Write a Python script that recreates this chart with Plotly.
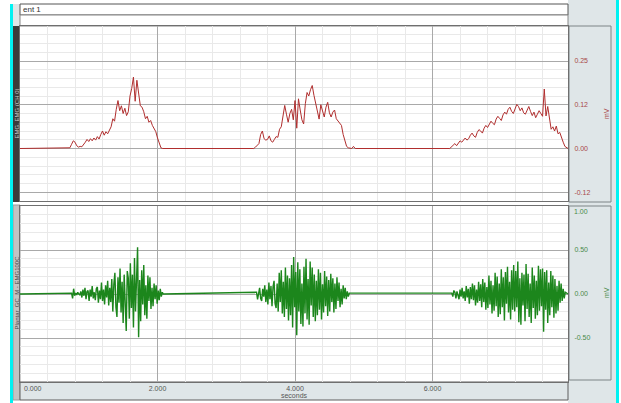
import plotly.graph_objects as go

# ---------------------------------------------------------------- data
T_END = 7.97  # seconds shown

# Channel 0: RMS envelope (mV), one value every 25 ms from each burst onset
RMS_STEP = 0.025
RMS_ONSETS = [0.70, 3.40, 6.25]
RMS_BURST_1 = [
    0.000, 0.002, 0.012, 0.022, 0.018, 0.008, 0.004, 0.006, 0.005, 0.010,
    0.018, 0.026, 0.020, 0.028, 0.022, 0.030, 0.024, 0.034, 0.027, 0.040,
    0.050, 0.038, 0.048, 0.042, 0.055, 0.062, 0.085, 0.078, 0.112, 0.137,
    0.108, 0.122, 0.100, 0.115, 0.094, 0.105, 0.150, 0.172, 0.204, 0.135,
    0.195, 0.160, 0.122, 0.118, 0.105, 0.085, 0.092, 0.075, 0.080, 0.066,
    0.058, 0.048, 0.030, 0.012, 0.002, 0.000,
]
RMS_BURST_2 = [
    0.000, 0.004, 0.010, 0.014, 0.040, 0.050, 0.028, 0.024, 0.026, 0.036,
    0.022, 0.018, 0.026, 0.034, 0.032, 0.055, 0.062, 0.090, 0.123, 0.098,
    0.075, 0.100, 0.112, 0.082, 0.137, 0.058, 0.142, 0.110, 0.082, 0.070,
    0.128, 0.160, 0.150, 0.168, 0.180, 0.152, 0.128, 0.108, 0.084, 0.125,
    0.110, 0.090, 0.118, 0.132, 0.102, 0.090, 0.104, 0.110, 0.085, 0.078,
    0.072, 0.066, 0.040, 0.020, 0.006, 0.002, 0.000, 0.000, 0.006, 0.000,
]
RMS_BURST_3 = [
    0.000, 0.004, 0.010, 0.014, 0.008, 0.016, 0.022, 0.018, 0.026, 0.030,
    0.024, 0.028, 0.038, 0.044, 0.036, 0.032, 0.046, 0.054, 0.050, 0.044,
    0.058, 0.066, 0.060, 0.070, 0.078, 0.072, 0.068, 0.084, 0.092, 0.086,
    0.080, 0.096, 0.104, 0.098, 0.112, 0.118, 0.106, 0.100, 0.114, 0.126,
    0.120, 0.108, 0.116, 0.102, 0.098, 0.112, 0.120, 0.106, 0.094, 0.104,
    0.088, 0.098, 0.108, 0.100, 0.092, 0.170, 0.093, 0.120, 0.080, 0.055,
    0.062, 0.050, 0.064, 0.042, 0.046, 0.030, 0.018, 0.006, 0.002,
]

# Channel 1: raw EMG (mV), one value every 15 ms from each burst onset
RAW_STEP = 0.015
RAW_ONSETS = [0.75, 3.44, 6.28]
RAW_BURST_1 = [
    0.01, -0.05, 0.06, -0.02, 0.01, -0.01, 0.02, 0.00, -0.01, 0.03,
    -0.04, 0.05, -0.02, 0.07, -0.06, 0.03, 0.04, -0.08, 0.05, -0.03,
    0.09, -0.05, 0.02, -0.07, 0.06, 0.08, -0.10, 0.04, -0.06, 0.13,
    -0.08, 0.05, -0.12, 0.10, -0.04, 0.15, -0.13, 0.07, -0.09, 0.17,
    -0.20, 0.11, 0.24, -0.15, -0.26, 0.19, -0.10, 0.29, -0.21, 0.14,
    -0.33, 0.22, -0.12, -0.42, 0.26, 0.18, -0.28, 0.35, -0.16, 0.22,
    -0.38, 0.41, -0.20, 0.30, 0.53, -0.49, 0.16, -0.31, 0.27, -0.12,
    0.33, -0.24, 0.10, -0.28, 0.21, -0.08, 0.19, -0.17, 0.07, -0.14,
    0.12, -0.06, 0.10, -0.11, 0.04, -0.07, 0.06, -0.03, 0.02, 0.00,
]
RAW_BURST_2 = [
    0.02, -0.06, 0.04, 0.07, -0.05, -0.08, 0.06, -0.03, 0.10, -0.09,
    0.05, -0.12, 0.13, -0.06, 0.09, -0.14, 0.08, 0.15, -0.11, -0.16,
    0.12, -0.20, 0.24, -0.09, 0.27, -0.22, 0.14, -0.26, 0.30, -0.17,
    0.21, -0.30, 0.18, -0.24, 0.33, -0.38, 0.42, -0.15, 0.25, -0.47,
    0.36, -0.20, 0.28, -0.34, 0.12, -0.37, 0.31, -0.22, 0.40, -0.29,
    0.17, -0.35, 0.37, -0.13, 0.30, -0.26, 0.22, -0.31, 0.15, -0.24,
    0.28, -0.18, 0.24, -0.29, 0.11, -0.21, 0.26, -0.14, 0.20, -0.25,
    0.16, -0.20, 0.23, -0.09, 0.18, -0.21, 0.12, -0.17, 0.19, -0.08,
    0.13, -0.15, 0.06, -0.12, 0.10, -0.05, 0.07, -0.06, 0.03, -0.03,
    0.01,
]
RAW_BURST_3 = [
    0.01, -0.03, 0.04, 0.02, -0.05, 0.03, -0.02, -0.06, 0.05, -0.03,
    0.07, -0.05, 0.03, -0.08, 0.09, -0.04, 0.06, -0.11, 0.08, -0.06,
    0.12, -0.07, 0.10, -0.13, 0.05, -0.10, 0.14, -0.08, 0.11, -0.15,
    0.17, -0.09, 0.13, -0.18, 0.08, -0.16, 0.21, -0.12, 0.15, -0.22,
    0.10, -0.19, 0.24, -0.14, 0.20, -0.26, 0.12, -0.23, 0.28, -0.15,
    0.19, -0.30, 0.25, -0.11, 0.31, -0.21, 0.14, -0.29, 0.27, -0.18,
    0.33, -0.20, 0.26, -0.15, 0.37, -0.32, 0.18, -0.35, 0.24, -0.13,
    0.22, -0.31, 0.34, -0.17, 0.23, -0.26, 0.12, -0.33, 0.30, -0.16,
    0.21, -0.28, 0.15, -0.24, 0.32, -0.19, 0.28, -0.14, 0.29, -0.43,
    0.25, -0.18, 0.27, -0.33, 0.13, -0.24, 0.26, -0.15, 0.21, -0.27,
    0.17, -0.22, 0.09, -0.19, 0.15, -0.10, 0.12, -0.08, 0.06, -0.05,
    0.02,
]

X_TICKS = [2, 4, 6]
X_TICK_TEXT = ["2.000", "4.000", "6.000"]
RMS_TICKS = [0.25, 0.125, 0.0, -0.125]
RMS_TICK_TEXT = ["0.25", "0.12", "0.00", "-0.12"]
RAW_TICKS = [0.5, 0.0, -0.5]
RAW_TICK_TEXT = ["0.50", "0.00", "-0.50"]

RMS_LABEL = "EMG, EMG (CH 0)"
RAW_LABEL = "Plantar_GC_M - EMG100C"
SEGMENT_LABEL = "ent 1"


def assemble(onsets, bursts, step):
    """Join the bursts into one trace, with a flat baseline between them."""
    t, v = [0.0], [0.0]
    for onset, vals in zip(onsets, bursts):
        t += [round(onset + i * step, 4) for i in range(len(vals))]
        v += list(vals)
    t.append(T_END)
    v.append(0.0)
    return t, v


rms_t, rms_v = assemble(RMS_ONSETS, [RMS_BURST_1, RMS_BURST_2, RMS_BURST_3], RMS_STEP)
raw_t, raw_v = assemble(RAW_ONSETS, [RAW_BURST_1, RAW_BURST_2, RAW_BURST_3], RAW_STEP)

# ---------------------------------------------------------------- layout
W, H = 621, 403
ML, MR, MT, MB = 20, 53, 26, 21
FONT = "Liberation Sans"
RED = "#a84848"
GREEN = "#4a8a4a"
MAJOR = "#a9a9a9"
MINOR = "#e9e9e9"
FRAME = "#6f6f6f"
PANEL = "#dfe6e8"


def px(x):
    return (x - ML) / (W - ML - MR)


def py(y):
    return (H - MB - y) / (H - MT - MB)


TOP_DOMAIN = [py(201), 1.0]
BOT_DOMAIN = [0.0, py(206)]

fig = go.Figure()
fig.add_trace(go.Scatter(
    x=rms_t, y=rms_v, xaxis="x2", yaxis="y", mode="lines",
    line=dict(color="#b02e2e", width=1), hoverinfo="skip", showlegend=False,
))
fig.add_trace(go.Scatter(
    x=raw_t, y=raw_v, xaxis="x", yaxis="y2", mode="lines",
    line=dict(color="#1c861c", width=1.4), hoverinfo="skip", showlegend=False,
))

x_common = dict(
    range=[0, T_END], showgrid=True, gridcolor=MAJOR, gridwidth=1,
    tickmode="array", tickvals=X_TICKS, ticktext=X_TICK_TEXT,
    minor=dict(tickmode="linear", tick0=0, dtick=0.4, showgrid=True,
               gridcolor=MINOR, gridwidth=1, ticks=""),
    zeroline=False, showline=True, linecolor=FRAME, linewidth=1, mirror=True,
    ticks="", automargin=False, fixedrange=True,
)

fig.update_layout(
    width=W, height=H,
    margin=dict(l=ML, r=MR, t=MT, b=MB, pad=0),
    paper_bgcolor="white", plot_bgcolor="white",
    font=dict(family=FONT, size=7, color="#555555"),
    xaxis=dict(anchor="y2", tickfont=dict(size=7, color="#555555"),
               title=dict(text="seconds", font=dict(size=7, color="#555555"), standoff=1),
               **x_common),
    xaxis2=dict(anchor="y", matches="x", showticklabels=False, **x_common),
    yaxis=dict(
        domain=TOP_DOMAIN, range=[-0.15, 0.35], side="right",
        tickmode="array", tickvals=RMS_TICKS, ticktext=RMS_TICK_TEXT,
        tickfont=dict(size=7, color=RED), ticklabelstandoff=4,
        showgrid=True, gridcolor=MAJOR, gridwidth=1,
        minor=dict(tickmode="linear", tick0=0, dtick=0.025, showgrid=True,
                   gridcolor=MINOR, gridwidth=1, ticks=""),
        zeroline=False, showline=True, linecolor=FRAME, linewidth=1, mirror=True,
        ticks="", automargin=False, fixedrange=True,
    ),
    yaxis2=dict(
        domain=BOT_DOMAIN, range=[-1.0, 1.0], side="right",
        tickmode="array", tickvals=RAW_TICKS, ticktext=RAW_TICK_TEXT,
        tickfont=dict(size=7, color=GREEN), ticklabelstandoff=4,
        showgrid=True, gridcolor=MAJOR, gridwidth=1,
        minor=dict(tickmode="linear", tick0=0, dtick=0.1, showgrid=True,
                   gridcolor=MINOR, gridwidth=1, ticks=""),
        zeroline=False, showline=True, linecolor=FRAME, linewidth=1, mirror=True,
        ticks="", automargin=False, fixedrange=True,
    ),
)


def rect(x0, y0, x1, y1, fill, line=None, width=1):
    return dict(
        type="rect", xref="paper", yref="paper",
        x0=px(x0), x1=px(x1), y0=py(y1), y1=py(y0),
        fillcolor=fill, line=dict(color=line or fill, width=width if line else 0),
        layer="below",
    )


shapes = [
    # right-hand scale panel
    rect(568, 0, 616, 403, PANEL),
    rect(569, 26, 611, 202, PANEL, "#7d8486"),
    rect(569, 206, 611, 380, PANEL, "#7d8486"),
    # channel name strips
    rect(13, 4, 20, 26, PANEL),
    rect(13, 26, 20, 202, "#3b3b3b"),
    rect(13, 205, 20, 400, "#c3c3c3", "#9a9a9a"),
    # segment header
    rect(20, 4, 568, 15, "white", "#555555"),
    rect(20, 15, 568, 26, "white", "#888888"),
    # time axis band
    rect(20, 382, 568, 400, PANEL, "#5e5e5e"),
    # selection stripes
    rect(10, 4, 13, 403, "#00f2f2"),
    rect(616, 0, 619, 403, "#00f2f2"),
]
fig.update_layout(shapes=shapes)

annotations = [
    dict(text=SEGMENT_LABEL, xref="paper", yref="paper", x=px(21), y=py(9.5),
         xanchor="left", yanchor="middle", showarrow=False,
         font=dict(size=8, color="#333333")),
    dict(text=RMS_LABEL, xref="paper", yref="paper", x=px(16.5), y=py(114),
         textangle=-90, xanchor="center", yanchor="middle", showarrow=False,
         font=dict(size=6, color="#c8c8c8")),
    dict(text=RAW_LABEL, xref="paper", yref="paper", x=px(16.5), y=py(293),
         textangle=-90, xanchor="center", yanchor="middle", showarrow=False,
         font=dict(size=6, color="#4a4a4a")),
    dict(text="mV", xref="paper", yref="paper", x=px(606), y=py(114),
         textangle=-90, xanchor="center", yanchor="middle", showarrow=False,
         font=dict(size=7, color=RED)),
    dict(text="mV", xref="paper", yref="paper", x=px(606), y=py(293),
         textangle=-90, xanchor="center", yanchor="middle", showarrow=False,
         font=dict(size=7, color=GREEN)),
    dict(text="1.00", xref="paper", yref="y2", x=px(572), y=1.0,
         xanchor="left", yanchor="top", showarrow=False,
         font=dict(size=7, color=GREEN)),
    dict(text="0.000", xref="x", yref="paper", x=0, y=py(383),
         xanchor="left", yanchor="top", xshift=2, showarrow=False,
         font=dict(size=7, color="#555555")),
]
fig.update_layout(annotations=annotations)

fig.write_html("out.html")
